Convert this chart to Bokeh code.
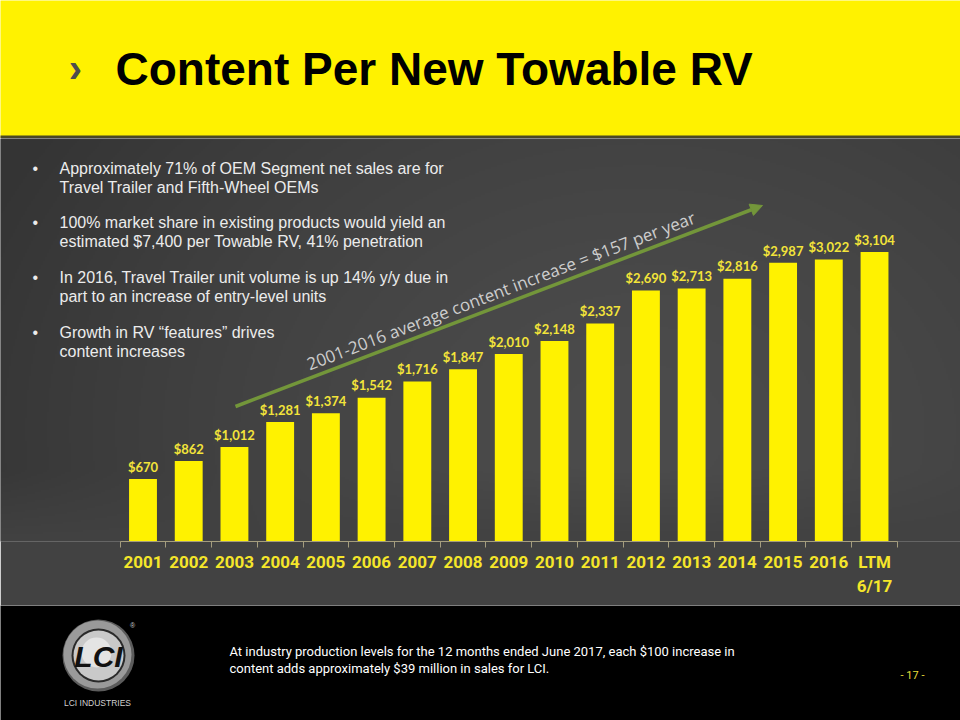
import numpy as np
from bokeh.plotting import figure
from bokeh.models import Range1d, FixedTicker, Arrow, NormalHead
from bokeh.layouts import column
from bokeh.core.properties import value
from bokeh.embed import file_html
from bokeh.resources import INLINE

# ---------------- data ----------------
categories = ["2001", "2002", "2003", "2004", "2005", "2006", "2007", "2008",
              "2009", "2010", "2011", "2012", "2013", "2014", "2015", "2016",
              "LTM\n6/17"]
values = [670, 862, 1012, 1281, 1374, 1542, 1716, 1847, 2010, 2148, 2337,
          2690, 2713, 2816, 2987, 3022, 3104]
value_labels = [f"${v:,}" for v in values]

title_text = "Content Per New Towable RV"
bullets = [
    ["Approximately 71% of OEM Segment net sales are for",
     "Travel Trailer and Fifth-Wheel OEMs"],
    ["100% market share in existing products would yield an",
     "estimated $7,400 per Towable RV, 41% penetration"],
    ["In 2016, Travel Trailer unit volume is up 14% y/y due in",
     "part to an increase of entry-level  units"],
    ["Growth in RV \u201cfeatures\u201d drives",
     "content increases"],
]
trend_text = "2001-2016 average content increase = $157 per year"
footer_lines = [
    "At industry production levels for the 12 months ended June 2017, each $100 increase in",
    "content adds approximately $39 million in sales for LCI.",
]
page_no = "- 17 -"
logo_name = "LCI INDUSTRIES"

# ---------------- layout constants ----------------
W = 960
HEAD_H = 138          # header figure height (yellow band + shadow)
YELLOW_H = 135
H_TOP = 605           # bottom of grey area (page coords)
AXIS_Y = 541          # axis line (page coords)
FOOT_H = 115
PX_PER_UNIT = 0.0933
CAT_STEP = 45.72
FIRST_CENTER = 142.5
SHIFT = 0.33          # baseline compensation, in em

y_max = (AXIS_Y - HEAD_H) / PX_PER_UNIT
x_start = -FIRST_CENTER / CAT_STEP
x_end = x_start + W / CAT_STEP

BAR = "#fff200"
LBL = "#f3e43a"

# ---------------- header ----------------
h = figure(width=W, height=HEAD_H, x_range=Range1d(0, W), y_range=Range1d(HEAD_H, 0),
           output_backend="svg", toolbar_location=None,
           x_axis_location=None, y_axis_location=None, min_border=0,
           background_fill_color=BAR, border_fill_color=BAR, outline_line_color=None)
h.grid.visible = False
h.quad(left=[-5], right=[W + 5], top=[YELLOW_H], bottom=[HEAD_H + 5],
       fill_color="#4a4826", line_color=None)
h.text(x=[75], y=[81 - SHIFT * 40], text=["\u203a"], text_align="center",
       text_baseline="alphabetic",
       text_font=value("Liberation Sans"), text_font_style="bold", text_font_size="40px",
       text_color="#4d4d4d")
h.text(x=[115], y=[84 - SHIFT * 46], text=[title_text], text_align="left",
       text_baseline="alphabetic",
       text_font=value("Liberation Sans"), text_font_style="bold", text_font_size="46px",
       text_color="#000000")

# ---------------- middle (chart) ----------------
p = figure(width=W, height=H_TOP - HEAD_H,
           x_range=Range1d(x_start, x_end), y_range=Range1d(0, y_max),
           output_backend="svg", toolbar_location=None,
           x_axis_location="below", y_axis_location=None,
           min_border_left=0, min_border_right=0, min_border_top=0,
           min_border_bottom=H_TOP - AXIS_Y,
           background_fill_color="#424242", border_fill_color="#424242",
           outline_line_color=None)
p.extra_x_ranges = {"px": Range1d(0, W)}
p.extra_y_ranges = {"px": Range1d(AXIS_Y, HEAD_H), "pxu": Range1d(0, AXIS_Y - HEAD_H)}
p.grid.visible = False

# background gradient
gh, gw = 202, 480
ys = np.linspace(AXIS_Y, HEAD_H, gh)
xs = np.linspace(0, W, gw)
X, Y = np.meshgrid(xs, ys)
d = np.sqrt((X - 640) ** 2 + ((Y - 430) * 1.3) ** 2)
t = np.clip(d / 720, 0, 1)
v = 76 - 24 * t ** 1.5
blend = np.clip((Y - 470) / 71, 0, 1)
v = v * (1 - blend) + 66 * blend
img = np.empty((gh, gw), dtype=np.uint32)
view = img.view(dtype=np.uint8).reshape((gh, gw, 4))
view[..., 0] = v.astype(np.uint8)
view[..., 1] = v.astype(np.uint8)
view[..., 2] = v.astype(np.uint8)
view[..., 3] = 255
p.image_rgba(image=[img], x=0, y=0, dw=W, dh=AXIS_Y - HEAD_H,
             x_range_name="px", y_range_name="pxu")

# bullets
b_base = [173, 227, 282, 337]
bx, by, tx, ty, tt = [], [], [], [], []
for base, lines in zip(b_base, bullets):
    bx.append(32); by.append(base - SHIFT * 16)
    for k, ln in enumerate(lines):
        tx.append(59); ty.append(base + 19 * k - SHIFT * 16); tt.append(ln)
p.text(x=bx, y=by, text=["\u2022"] * len(bx), text_baseline="alphabetic",
       text_font=value("Liberation Sans"), text_font_size="16px", text_color="#ececec",
       x_range_name="px", y_range_name="px")
p.text(x=tx, y=ty, text=tt, text_baseline="alphabetic",
       text_font=value("Liberation Sans"), text_font_size="16px", text_color="#ececec",
       x_range_name="px", y_range_name="px")

# bars and value labels
idx = list(range(len(categories)))
p.vbar(x=idx, top=values, bottom=0, width=0.61, fill_color=BAR, line_color=None)
p.text(x=idx, y=values, text=value_labels, text_align="center", text_baseline="alphabetic",
       y_offset=-8 - SHIFT * 13, text_font=value("Lato"), text_font_style="bold",
       text_font_size="13px", text_color=LBL)

# trend arrow and text
GREEN = "#73963a"
p.add_layout(Arrow(end=NormalHead(size=12, fill_color=GREEN, line_color=GREEN),
                   x_start=235, y_start=406, x_end=762, y_end=205,
                   line_color=GREEN, line_width=3.5,
                   x_range_name="px", y_range_name="px"))
p.text(x=[307], y=[364], text=[trend_text], angle=0.365, text_baseline="alphabetic",
       text_font=value("Open Sans"), text_font_size="17px", text_color="#cdcdcd",
       x_range_name="px", y_range_name="px")

# category axis
ax = p.xaxis[0]
ax.ticker = FixedTicker(ticks=idx, minor_ticks=[i - 0.5 for i in range(len(categories) + 1)])
ax.major_label_overrides = {i: c for i, c in enumerate(categories)}
ax.bounds = (-0.5, len(categories) - 0.5)
ax.axis_line_color = "#a59d7e"
ax.axis_line_width = 1
ax.major_tick_line_color = None
ax.major_tick_out = 0
ax.major_tick_in = 0
ax.minor_tick_line_color = "#a59d7e"
ax.minor_tick_out = 6
ax.minor_tick_in = 0
ax.major_label_text_font = "Roboto"
ax.major_label_text_font_style = "bold"
ax.major_label_text_font_size = "17px"
ax.major_label_text_color = "#f5e62a"
ax.major_label_standoff = 4

# ---------------- footer ----------------
f = figure(width=W, height=FOOT_H, x_range=Range1d(0, W), y_range=Range1d(FOOT_H, 0),
           output_backend="svg", toolbar_location=None,
           x_axis_location=None, y_axis_location=None, min_border=0,
           background_fill_color="#000000", border_fill_color="#000000",
           outline_line_color=None)
f.grid.visible = False

LX, LY = 98, 50
f.circle(x=[LX], y=[LY], radius=36, fill_color="#5c5c5c", line_color=None)
f.circle(x=[LX - 1], y=[LY - 1], radius=34, fill_color="#9a9a9a", line_color=None)
f.circle(x=[LX], y=[LY], radius=27, fill_color="#2a2a2a", line_color=None)
f.circle(x=[LX], y=[LY], radius=25, fill_color="#c9c9c9", line_color=None)
f.circle(x=[LX - 2], y=[LY - 3], radius=15, fill_color="#e4e4e4", line_color=None)
f.text(x=[LX], y=[LY + 11 - SHIFT * 30], text=["LCI"], text_align="center",
       text_baseline="alphabetic",
       text_font=value("Liberation Sans"), text_font_style="bold italic",
       text_font_size="30px", text_color="#111111")
f.text(x=[LX + 34], y=[LY - 30], text=["\u00ae"], text_align="center",
       text_baseline="middle", text_font=value("Liberation Sans"),
       text_font_size="7px", text_color="#cccccc")
f.text(x=[LX - 1], y=[100 - SHIFT * 8.5], text=[logo_name], text_align="center",
       text_baseline="alphabetic",
       text_font=value("Liberation Sans"), text_font_size="8.5px", text_color="#d0d0d0")

f.text(x=[229, 229], y=[50 - SHIFT * 13, 67 - SHIFT * 13], text=footer_lines,
       text_baseline="alphabetic",
       text_font=value("Roboto"), text_font_size="13px",
       text_color="#ffffff")
f.text(x=[912], y=[76 - SHIFT * 12 - 2], text=[page_no], text_align="center",
       text_baseline="alphabetic",
       text_font=value("Roboto"), text_font_size="11px",
       text_color="#e8de3a")

layout = column(h, p, f, spacing=0)
open("out.html", "w").write(file_html(layout, INLINE))
